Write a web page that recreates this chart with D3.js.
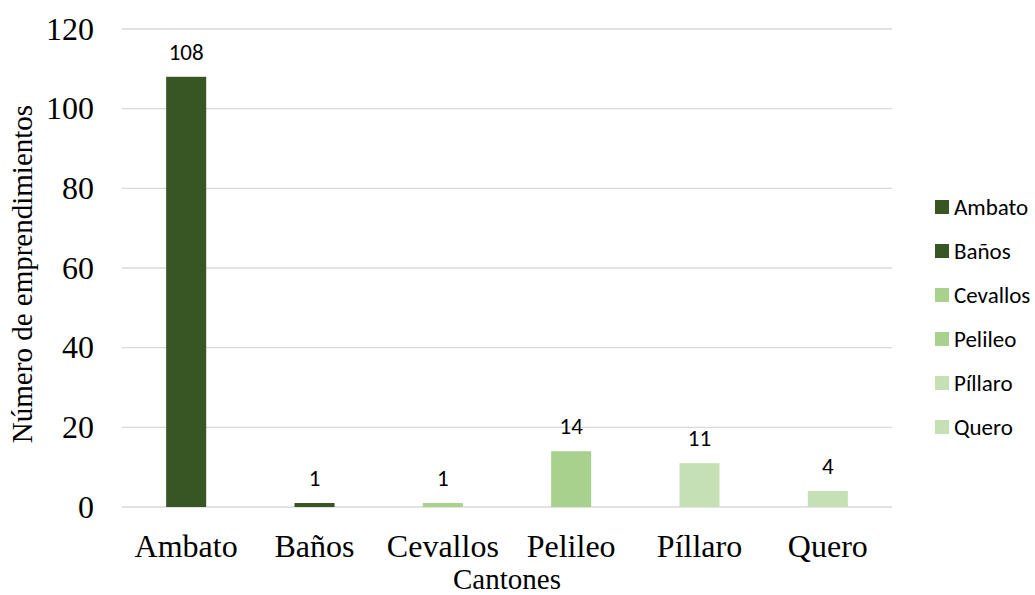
<!DOCTYPE html>
<html>
<head>
<meta charset="utf-8">
<script src="https://cdn.jsdelivr.net/npm/d3@7"></script>
<style>
  html, body { margin: 0; padding: 0; background: #fff; }
  svg { display: block; }
</style>
</head>
<body>
<svg id="chart" width="1035" height="595"></svg>
<script>
// Emprendimientos por cantón
const cantones = ["Ambato", "Baños", "Cevallos", "Pelileo", "Píllaro", "Quero"];
const valores = [108, 1, 1, 14, 11, 4];
const colores = ["#375623", "#375623", "#A9D18E", "#A9D18E", "#C5E0B4", "#C5E0B4"];
const yTicks = [0, 20, 40, 60, 80, 100, 120];

const svg = d3.select("#chart");
const plot = { left: 122, right: 892, top: 29, bottom: 507 };
const serif = "'Liberation Serif', 'Times New Roman', serif";
const sans = "Carlito, Lato, 'Open Sans', sans-serif";

const x = d3.scaleBand()
  .domain(cantones)
  .range([plot.left, plot.right])
  .paddingInner(0.688)
  .paddingOuter(0.344);

const y = d3.scaleLinear()
  .domain([0, 120])
  .range([plot.bottom, plot.top]);

// Gridlines
svg.append("g")
  .selectAll("line")
  .data(yTicks)
  .join("line")
  .attr("x1", plot.left)
  .attr("x2", plot.right)
  .attr("y1", d => y(d))
  .attr("y2", d => y(d))
  .attr("stroke", "#d9d9d9")
  .attr("stroke-width", 1.3);

// Y axis labels
const yAxis = svg.append("g")
  .attr("transform", `translate(${plot.left},0)`)
  .call(d3.axisLeft(y).tickValues(yTicks).tickSize(0).tickPadding(28));
yAxis.select(".domain").remove();
yAxis.selectAll("text")
  .attr("font-family", serif)
  .attr("font-size", 32)
  .attr("fill", "#000");

// X axis labels
const xAxis = svg.append("g")
  .attr("transform", `translate(0,${plot.bottom})`)
  .call(d3.axisBottom(x).tickSize(0).tickPadding(27));
xAxis.select(".domain").remove();
xAxis.selectAll("text")
  .attr("font-family", serif)
  .attr("font-size", 32)
  .attr("fill", "#000");

// Bars
svg.append("g")
  .selectAll("rect")
  .data(cantones)
  .join("rect")
  .attr("x", d => x(d))
  .attr("width", x.bandwidth())
  .attr("y", (d, i) => y(valores[i]))
  .attr("height", (d, i) => y(0) - y(valores[i]))
  .attr("fill", (d, i) => colores[i]);

// Value labels
svg.append("g")
  .selectAll("text")
  .data(cantones)
  .join("text")
  .attr("x", d => x(d) + x.bandwidth() / 2)
  .attr("y", (d, i) => y(valores[i]) - 17)
  .attr("text-anchor", "middle")
  .attr("font-family", sans)
  .attr("font-size", 23)
  .attr("fill", "#000")
  .text((d, i) => valores[i]);

// Axis titles
svg.append("text")
  .attr("x", (plot.left + plot.right) / 2)
  .attr("y", 589)
  .attr("text-anchor", "middle")
  .attr("font-family", serif)
  .attr("font-size", 29)
  .attr("fill", "#000")
  .text("Cantones");

svg.append("text")
  .attr("transform", `translate(32,274) rotate(-90)`)
  .attr("text-anchor", "middle")
  .attr("font-family", serif)
  .attr("font-size", 29)
  .attr("fill", "#000")
  .text("Número de emprendimientos");

// Legend
const legend = svg.append("g")
  .selectAll("g")
  .data(cantones)
  .join("g")
  .attr("transform", (d, i) => `translate(935,${207 + i * 44})`);
legend.append("rect")
  .attr("x", 0).attr("y", -7)
  .attr("width", 14).attr("height", 14)
  .attr("fill", (d, i) => colores[i]);
legend.append("text")
  .attr("x", 19).attr("y", 0)
  .attr("dy", "0.35em")
  .attr("font-family", sans)
  .attr("font-size", 23)
  .attr("fill", "#000")
  .text(d => d);
</script>
</body>
</html>
